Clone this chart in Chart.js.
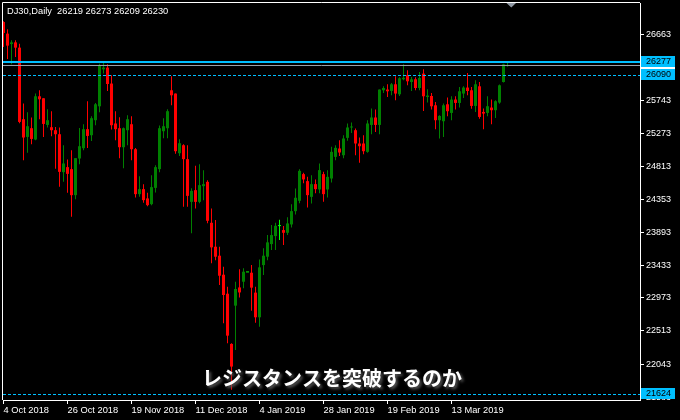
<!DOCTYPE html>
<html>
<head>
<meta charset="utf-8">
<script src="https://cdn.jsdelivr.net/npm/chart.js@4.4.1/dist/chart.umd.min.js"></script>
<style>
    html, body { margin: 0; padding: 0; background: #000; }
    #wrap { width: 680px; height: 420px; }
</style>
</head>
<body>
<div id="wrap"><canvas id="candleChart" width="680" height="420"></canvas></div>
<script>
// DJ30 daily, 4 Oct 2018 .. end of Mar 2019 (one entry per bar)
const opens = [26835, 26673, 26527, 26551, 26477, 25475, 25227, 25349, 25191, 25796,
    25768, 25395, 25363, 25321, 25265, 24734, 24804, 24776, 24412, 24925,
    25069, 25335, 25251, 25461, 25656, 26174, 26197, 25974, 25415, 25349,
    25083, 25321, 25405, 25055, 24426, 24496, 24366, 24286, 24514, 24776,
    25307, 25349, 25880, 25834, 24999, 25111, 24916, 24318, 24482, 24318,
    24538, 24598, 24025, 23690, 23564, 23298, 23032, 22329, 22865, 23120,
    23200, 23330, 23326, 23047, 22702, 23433, 23550, 23727, 23839, 23979,
    23923, 23885, 24002, 24188, 24333, 24706, 24608, 24388, 24566, 24492,
    24706, 24492, 24645, 24948, 25065, 24971, 25214, 25359, 25321, 25135,
    25135, 25018, 25395, 25499, 25395, 25880, 25890, 25871, 25964, 25824,
    26035, 26090, 25996, 26034, 25912, 26113, 25786, 25800, 25670, 25461,
    25447, 25684, 25563, 25750, 25703, 25834, 25918, 25880, 25661, 25936,
    25577, 25563, 25638, 25601, 25708, 25996, 26219];
const highs = [26845, 26733, 26579, 26579, 26533, 25694, 25573, 25498, 25834, 25880,
    25768, 25615, 25587, 25367, 25359, 25111, 24911, 25041, 24930, 25353,
    25405, 25726, 25517, 25703, 26253, 26262, 26244, 26090, 25587, 25503,
    25359, 25531, 25517, 25073, 24678, 24566, 24444, 24692, 24830, 25387,
    25489, 25615, 26076, 25834, 25195, 25125, 25111, 24510, 24822, 24846,
    24762, 24622, 24226, 24063, 23690, 23410, 23130, 22340, 23200, 23375,
    23387, 23330, 23433, 23130, 23512, 23667, 23853, 23993, 24025, 24067,
    23979, 24101, 24286, 24506, 24776, 24724, 24668, 24692, 24632, 24856,
    24738, 24762, 25088, 25111, 25181, 25251, 25415, 25429, 25345, 25219,
    25251, 25461, 25624, 25611, 25890, 25936, 25964, 25982, 26076, 26062,
    26244, 26160, 26066, 26062, 26136, 26174, 25894, 25842, 25716, 25531,
    25694, 25778, 25796, 25796, 25926, 25936, 26122, 25926, 26020, 25996,
    25624, 25796, 25750, 25740, 25960, 26253, 26273];
const lows = [26485, 26318, 26244, 26346, 25420, 24902, 25004, 25125, 25181, 25475,
    25227, 25359, 25237, 24780, 24528, 24598, 24444, 24109, 24356, 24846,
    25041, 25073, 25171, 25391, 25573, 26114, 25870, 25331, 25181, 24930,
    24790, 25111, 24902, 24380, 24389, 24304, 24258, 24272, 24450, 24734,
    25209, 25209, 25670, 24990, 24960, 24249, 24249, 23877, 24226, 24300,
    24342, 24020, 23457, 23500, 23154, 22619, 22339, 21686, 22245, 22980,
    23107, 23330, 22795, 22627, 22571, 23294, 23500, 23643, 23643, 23783,
    23713, 23855, 23960, 24140, 24300, 24580, 24240, 24296, 24440, 24440,
    24318, 24380, 24590, 24900, 24960, 24930, 25172, 25283, 24971, 24864,
    24985, 25004, 25265, 25297, 25265, 25843, 25786, 25810, 25740, 25800,
    26020, 25950, 25870, 25880, 25880, 25591, 25708, 25610, 25335, 25205,
    25227, 25517, 25461, 25610, 25638, 25772, 25810, 25620, 25577, 25480,
    25335, 25517, 25405, 25493, 25690, 25988, 26209];
const closes = [26681, 26505, 26551, 26477, 25437, 25219, 25377, 25199, 25796, 25754,
    25409, 25461, 25321, 25265, 24738, 24855, 24710, 24412, 24930, 25097,
    25335, 25241, 25489, 25684, 26225, 26198, 25968, 25391, 25335, 25083,
    25349, 25475, 25055, 24426, 24496, 24342, 24272, 24524, 24804, 25349,
    25377, 25587, 25810, 25027, 25139, 24916, 24402, 24472, 24318, 24552,
    24566, 24053, 23681, 23550, 23284, 23014, 22445, 22012, 23098, 23050,
    23340, 23330, 23117, 22702, 23401, 23564, 23751, 23853, 23983, 23979,
    23885, 24016, 24188, 24375, 24752, 24632, 24412, 24566, 24496, 24762,
    24426, 24668, 25018, 25074, 25009, 25205, 25359, 25373, 25135, 25097,
    25027, 25415, 25499, 25395, 25890, 25912, 25866, 25964, 25834, 26048,
    26055, 26006, 26034, 25912, 26052, 25796, 25806, 25656, 25461, 25521,
    25670, 25587, 25750, 25703, 25866, 25918, 25870, 25661, 25964, 25507,
    25554, 25657, 25601, 25727, 25950, 26244, 26230];

const xTickIndex = [0, 16, 32, 48, 64, 80, 96, 112];
const xTickLabels = ["4 Oct 2018", "26 Oct 2018", "19 Nov 2018", "11 Dec 2018",
    "4 Jan 2019", "28 Jan 2019", "19 Feb 2019", "13 Mar 2019"];
const yTickValues = [26663, 26203, 25743, 25273, 24813, 24353, 23893, 23433,
    22973, 22513, 22043, 21583];

const resistanceLevel = 26277;
const bidLevel = 26230;
const dashedLevels = [26090, 21624];

const headerText = "DJ30,Daily  26219 26273 26209 26230";
const captionText = "レジスタンスを突破するのか";

const colors = {
    bull: "#008000",
    bear: "#ff0000",
    doji: "#00ff00",
    cyan: "#00bfff",
    bid: "#9aa0a8",
    white: "#ffffff",
};
const fontFamily = '"Liberation Sans", Arial, sans-serif';

function candleColor(ctx) {
    const i = ctx.dataIndex;
    if (closes[i] === opens[i]) return colors.doji;
    return closes[i] > opens[i] ? colors.bull : colors.bear;
}

const overlayPlugin = {
    id: "mtOverlay",
    afterDatasetsDraw(chart) {
        const { ctx, chartArea } = chart;
        const y = chart.scales.y;
        ctx.save();
        // frame top / left
        ctx.strokeStyle = colors.white;
        ctx.lineWidth = 1;
        ctx.beginPath();
        ctx.moveTo(2.5, 400);
        ctx.lineTo(2.5, 2.5);
        ctx.lineTo(640, 2.5);
        ctx.stroke();

        // bid line
        const by = Math.round(y.getPixelForValue(bidLevel)) + 0.5;
        ctx.strokeStyle = colors.bid;
        ctx.beginPath();
        ctx.moveTo(chartArea.left, by);
        ctx.lineTo(chartArea.right, by);
        ctx.stroke();

        // dashed levels
        ctx.strokeStyle = colors.cyan;
        ctx.setLineDash([3, 2]);
        dashedLevels.forEach((lv) => {
            const py = Math.round(y.getPixelForValue(lv)) + 0.5;
            ctx.beginPath();
            ctx.moveTo(chartArea.left, py);
            ctx.lineTo(chartArea.right, py);
            ctx.stroke();
        });
        ctx.setLineDash([]);

        // resistance line
        const ry = Math.round(y.getPixelForValue(resistanceLevel));
        ctx.lineWidth = 2;
        ctx.beginPath();
        ctx.moveTo(chartArea.left, ry);
        ctx.lineTo(chartArea.right, ry);
        ctx.stroke();
        ctx.restore();
    },
    afterDraw(chart) {
        const { ctx } = chart;
        const y = chart.scales.y;
        ctx.save();
        ctx.font = "9px " + fontFamily;
        ctx.textBaseline = "middle";
        ctx.textAlign = "left";

        const box = (value, bg) => {
            const py = Math.round(y.getPixelForValue(value));
            ctx.fillStyle = bg;
            ctx.fillRect(641, py - 6, 34, 11);
            ctx.fillStyle = "#000";
            ctx.fillText(String(value), 646, py);
        };
        box(bidLevel, colors.white);
        box(resistanceLevel, colors.cyan);
        dashedLevels.forEach((lv) => box(lv, colors.cyan));

        // header
        ctx.fillStyle = colors.white;
        ctx.textBaseline = "alphabetic";
        ctx.font = "9.3px " + fontFamily;
        ctx.fillText(headerText, 7, 14);

        // shift marker
        ctx.fillStyle = "#8f98a3";
        ctx.beginPath();
        ctx.moveTo(506.5, 3);
        ctx.lineTo(516, 3);
        ctx.lineTo(511.3, 7.5);
        ctx.closePath();
        ctx.fill();

        // caption
        ctx.font = 'bold 20px "Noto Sans CJK JP", sans-serif';
        ctx.textAlign = "center";
        ctx.textBaseline = "middle";
        ctx.shadowColor = "rgba(90,90,90,1)";
        ctx.shadowBlur = 3;
        ctx.shadowOffsetX = 2;
        ctx.shadowOffsetY = 2;
        ctx.fillStyle = colors.white;
        ctx.fillText(captionText, 332, 378);
        ctx.restore();
    },
};

document.addEventListener("DOMContentLoaded", function () {
    const canvas = document.getElementById("candleChart");
    const ctx = canvas.getContext("2d");

    new Chart(ctx, {
        type: "bar",
        data: {
            datasets: [
                {
                    label: "wick",
                    data: lows.map((l, i) => ({ x: i, y: [l, highs[i]] })),
                    backgroundColor: candleColor,
                    barThickness: 1,
                    grouped: false,
                    borderWidth: 0,
                    inflateAmount: 0,
                    order: 2,
                },
                {
                    label: "body",
                    data: opens.map((o, i) => ({ x: i, y: [o, closes[i]] })),
                    backgroundColor: candleColor,
                    barThickness: 3,
                    grouped: false,
                    borderWidth: 0,
                    inflateAmount: 0,
                    minBarLength: 1,
                    order: 1,
                },
            ],
        },
        options: {
            responsive: false,
            animation: false,
            layout: { padding: { left: 3, top: 3, right: 0, bottom: 0 } },
            plugins: {
                legend: { display: false },
                tooltip: { enabled: false },
            },
            scales: {
                x: {
                    type: "linear",
                    offset: false,
                    min: -0.125,
                    max: 159.125,
                    afterBuildTicks: (scale) => {
                        scale.ticks = xTickIndex.map((v) => ({ value: v }));
                    },
                    afterFit: (scale) => {
                        scale.height = 20;
                        scale.paddingLeft = 0;
                        scale.paddingRight = 0;
                    },
                    grid: { offset: false, drawOnChartArea: false, color: colors.white, tickLength: 4 },
                    border: { color: colors.white },
                    ticks: {
                        color: colors.white,
                        align: "start",
                        autoSkip: false,
                        maxRotation: 0,
                        padding: 1,
                        font: { family: fontFamily, size: 9.3 },
                        callback: (value, index) => xTickLabels[index],
                    },
                },
                y: {
                    position: "right",
                    min: 21544,
                    max: 27102,
                    afterBuildTicks: (scale) => {
                        scale.ticks = yTickValues.map((v) => ({ value: v }));
                    },
                    afterFit: (scale) => {
                        scale.width = 40;
                        scale.paddingTop = 0;
                        scale.paddingBottom = 0;
                    },
                    grid: { drawOnChartArea: false, color: colors.white, tickLength: 4 },
                    border: { color: colors.white },
                    ticks: {
                        color: colors.white,
                        padding: 2,
                        font: { family: fontFamily, size: 9 },
                        callback: (value) => String(value),
                    },
                },
            },
        },
        plugins: [overlayPlugin],
    });
});
</script>
</body>
</html>
